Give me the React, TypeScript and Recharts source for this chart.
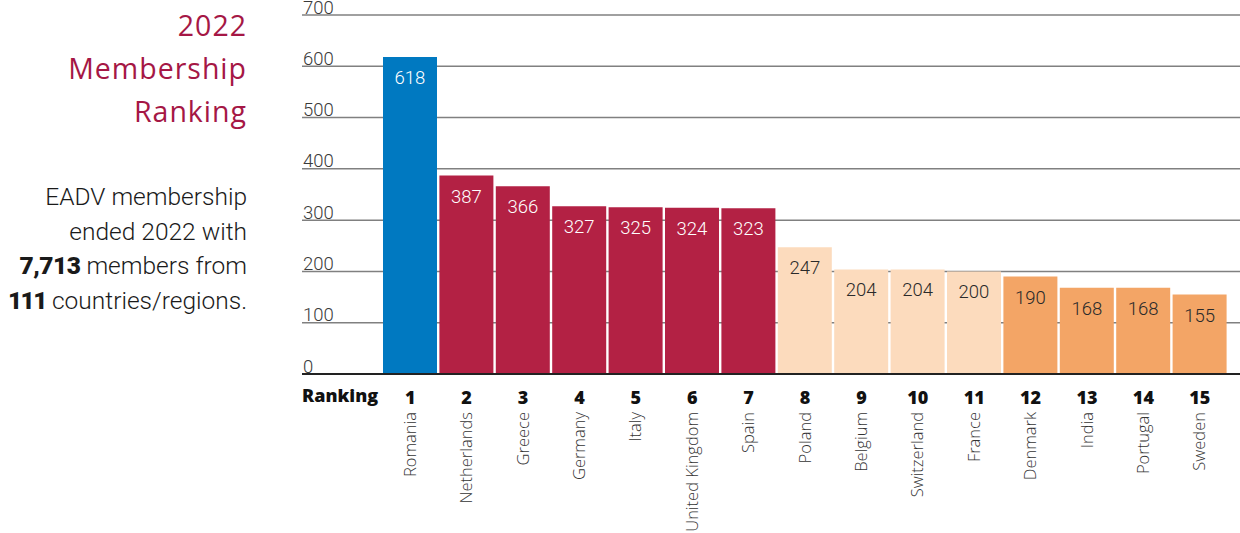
import React from "react";
import { BarChart, Bar, XAxis, YAxis, CartesianGrid, Cell, LabelList, ReferenceLine } from "recharts";

const countries = ["Romania", "Netherlands", "Greece", "Germany", "Italy", "United Kingdom", "Spain", "Poland", "Belgium", "Switzerland", "France", "Denmark", "India", "Portugal", "Sweden"];
const ranks = [1, 2, 3, 4, 5, 6, 7, 8, 9, 10, 11, 12, 13, 14, 15];
const members = [618, 387, 366, 327, 325, 324, 323, 247, 204, 204, 200, 190, 168, 168, 155];
const tiers = [0, 1, 1, 1, 1, 1, 1, 2, 2, 2, 2, 3, 3, 3, 3];
const yTicks = [0, 100, 200, 300, 400, 500, 600, 700];

const tierFill = ["#0079C1", "#B32144", "#FCDBBD", "#F3A566"];
const tierText = ["#ffffff", "#ffffff", "#2a2a2a", "#2a2a2a"];

const data = countries.map((c, i) => ({ country: c, rank: ranks[i], value: members[i], tier: tiers[i] }));

const renderYTick = (props: any) => {
  const { x, y, payload } = props;
  return (
    <text key={payload.value} x={x + 1} y={y - 1.5} textAnchor="start" fontFamily="Roboto" fontWeight={300} fontSize={18.5} fill="#3a3a3a">
      {payload.value}
    </text>
  );
};

const renderXTick = (props: any) => {
  const { x, y, index } = props;
  const d = data[index];
  return (
    <g key={index}>
      <text x={x} y={y + 30} textAnchor="middle" fontFamily="'Open Sans'" fontWeight={800} fontSize={18} fill="#111">
        {d.rank}
      </text>
      <text
        transform={`translate(${x + 5.5}, ${y + 38}) rotate(-90)`}
        textAnchor="end"
        fontFamily="'Open Sans'"
        fontWeight={300}
        fontSize={16.5}
        fill="#333"
      >
        {d.country}
      </text>
    </g>
  );
};

const ValueLabel = (props: any) => {
  const { x, y, width, value, index } = props;
  const d = data[index];
  return (
    <text x={x + width / 2} y={y + 27} textAnchor="middle" fontFamily="Roboto" fontWeight={300} fontSize={18.5} fill={tierText[d.tier]}>
      {value}
    </text>
  );
};

export default function App() {
  return (
    <div style={{ position: "absolute", left: 0, top: 0, width: 1240, height: 533, background: "#fff" }}>
      <div
        style={{
          position: "absolute",
          right: 1240 - 247,
          top: 4,
          textAlign: "right",
          fontFamily: "'Open Sans'",
          fontSize: 28.5,
          lineHeight: "43px",
          color: "#A51745",
          letterSpacing: 1,
          whiteSpace: "nowrap",
        }}
      >
        2022
        <br />
        Membership
        <br />
        Ranking
      </div>
      <div
        style={{
          position: "absolute",
          right: 1240 - 247,
          top: 180,
          textAlign: "right",
          fontFamily: "Roboto",
          fontWeight: 300,
          fontSize: 24.5,
          lineHeight: "34.5px",
          color: "#1a1a1a",
          whiteSpace: "nowrap",
        }}
      >
        EADV membership
        <br />
        ended 2022 with
        <br />
        <span style={{ fontWeight: 900, letterSpacing: -0.5 }}>7,713</span> members from
        <br />
        <span style={{ fontWeight: 900, letterSpacing: -1.5 }}>111</span> countries/regions.
      </div>
      <div
        style={{
          position: "absolute",
          left: 302,
          top: 383,
          fontFamily: "'Open Sans'",
          fontWeight: 800,
          fontSize: 18,
          color: "#111",
          whiteSpace: "nowrap",
        }}
      >
        Ranking
      </div>
      <BarChart
        width={1240}
        height={533}
        data={data}
        margin={{ top: 15, right: 0, bottom: 0, left: 262 }}
        barCategoryGap={1}
      >
        <CartesianGrid horizontal vertical={false} stroke="#808080" strokeWidth={1.5} />
        <YAxis
          type="number"
          domain={[0, 700]}
          ticks={yTicks}
          width={40}
          axisLine={false}
          tickLine={false}
          tickSize={0}
          tickMargin={0}
          tick={renderYTick}
          interval={0}
        />
        <XAxis
          dataKey="country"
          type="category"
          height={159}
          padding={{ left: 80, right: 12 }}
          axisLine={false}
          tickLine={false}
          tickSize={0}
          tickMargin={0}
          interval={0}
          tick={renderXTick}
        />
        <Bar dataKey="value" isAnimationActive={false}>
          {data.map((d, i) => (
            <Cell key={i} fill={tierFill[d.tier]} />
          ))}
          <LabelList dataKey="value" content={<ValueLabel />} />
        </Bar>
        <ReferenceLine y={0} stroke="#222" strokeWidth={2} />
      </BarChart>
    </div>
  );
}
